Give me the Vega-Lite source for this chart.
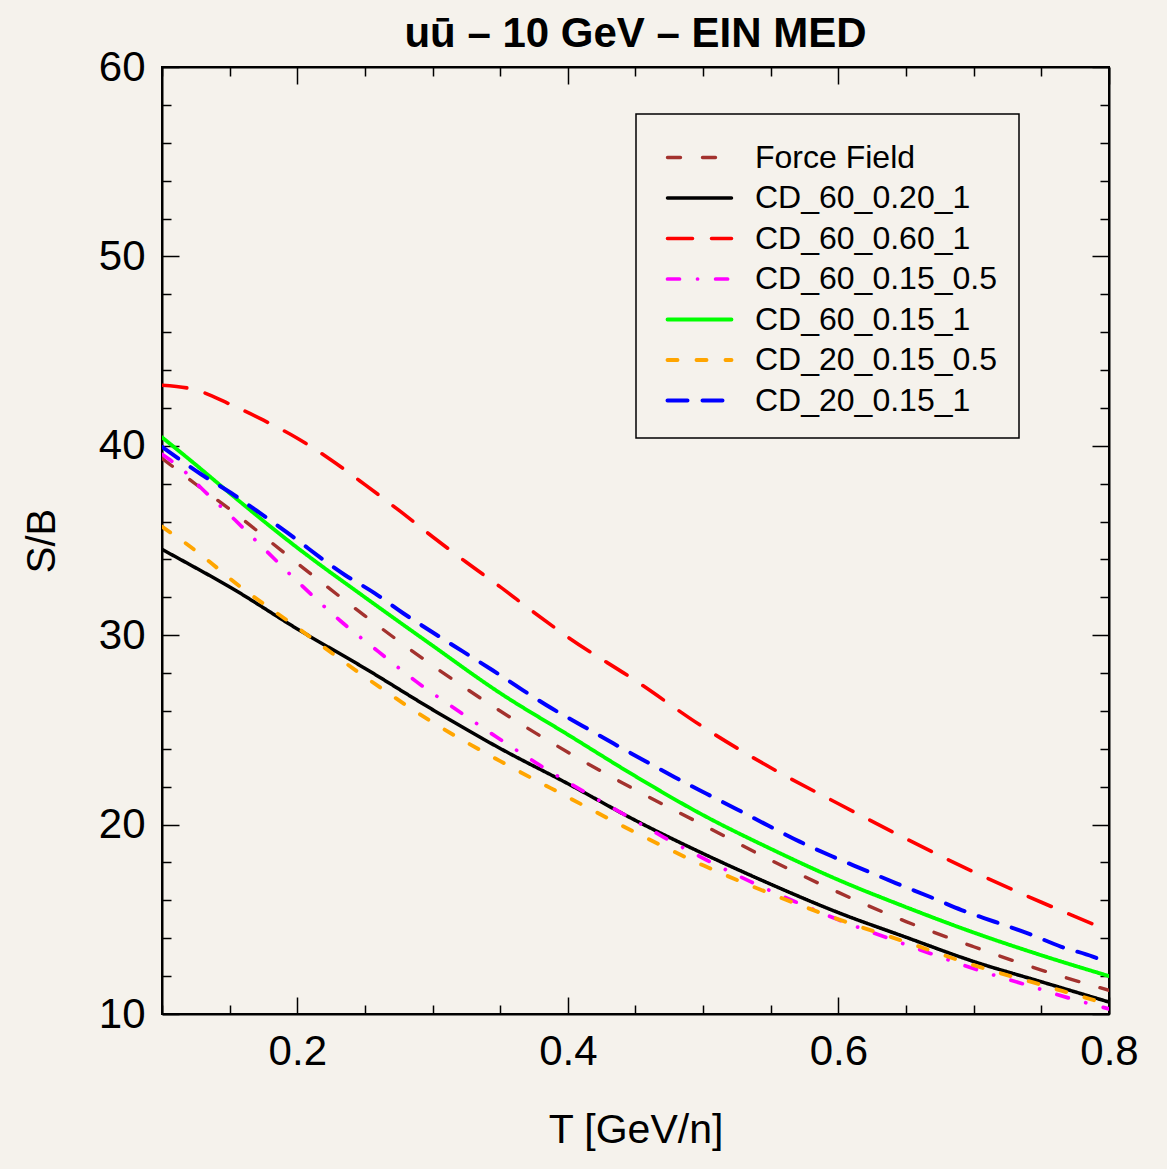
{
  "$schema": "https://vega.github.io/schema/vega-lite/v6.json",
  "width": 947,
  "height": 947,
  "autosize": {"type": "none"},
  "padding": {"left": 162, "top": 67, "right": 58, "bottom": 155},
  "background": "#f5f2ec",
  "title": {"text": "uū – 10 GeV – EIN MED", "font": "Liberation Sans", "fontSize": 42, "fontWeight": "bold", "color": "black", "offset": -10, "anchor": "middle"},
  "data": {"values": [
    {"model": "Force Field", "T": 0.1, "SB": 39.34}, {"model": "Force Field", "T": 0.125, "SB": 37.97}, {"model": "Force Field", "T": 0.15, "SB": 36.65}, {"model": "Force Field", "T": 0.2, "SB": 33.8}, {"model": "Force Field", "T": 0.25, "SB": 31.02}, {"model": "Force Field", "T": 0.3, "SB": 28.4}, {"model": "Force Field", "T": 0.35, "SB": 26.0}, {"model": "Force Field", "T": 0.4, "SB": 23.82}, {"model": "Force Field", "T": 0.45, "SB": 21.83}, {"model": "Force Field", "T": 0.5, "SB": 19.98}, {"model": "Force Field", "T": 0.55, "SB": 18.12}, {"model": "Force Field", "T": 0.6, "SB": 16.42}, {"model": "Force Field", "T": 0.65, "SB": 14.88}, {"model": "Force Field", "T": 0.7, "SB": 13.55}, {"model": "Force Field", "T": 0.75, "SB": 12.32}, {"model": "Force Field", "T": 0.8, "SB": 11.25},
    {"model": "CD_60_0.20_1", "T": 0.1, "SB": 34.53}, {"model": "CD_60_0.20_1", "T": 0.12, "SB": 33.75}, {"model": "CD_60_0.20_1", "T": 0.15, "SB": 32.55}, {"model": "CD_60_0.20_1", "T": 0.2, "SB": 30.33}, {"model": "CD_60_0.20_1", "T": 0.25, "SB": 28.25}, {"model": "CD_60_0.20_1", "T": 0.3, "SB": 26.07}, {"model": "CD_60_0.20_1", "T": 0.35, "SB": 24.02}, {"model": "CD_60_0.20_1", "T": 0.4, "SB": 22.16}, {"model": "CD_60_0.20_1", "T": 0.45, "SB": 20.22}, {"model": "CD_60_0.20_1", "T": 0.5, "SB": 18.47}, {"model": "CD_60_0.20_1", "T": 0.55, "SB": 16.85}, {"model": "CD_60_0.20_1", "T": 0.6, "SB": 15.35}, {"model": "CD_60_0.20_1", "T": 0.65, "SB": 14.05}, {"model": "CD_60_0.20_1", "T": 0.7, "SB": 12.77}, {"model": "CD_60_0.20_1", "T": 0.75, "SB": 11.7}, {"model": "CD_60_0.20_1", "T": 0.8, "SB": 10.63},
    {"model": "CD_60_0.60_1", "T": 0.1, "SB": 43.2}, {"model": "CD_60_0.60_1", "T": 0.125, "SB": 42.95}, {"model": "CD_60_0.60_1", "T": 0.15, "SB": 42.2}, {"model": "CD_60_0.60_1", "T": 0.175, "SB": 41.35}, {"model": "CD_60_0.60_1", "T": 0.2, "SB": 40.4}, {"model": "CD_60_0.60_1", "T": 0.225, "SB": 39.25}, {"model": "CD_60_0.60_1", "T": 0.25, "SB": 37.95}, {"model": "CD_60_0.60_1", "T": 0.275, "SB": 36.6}, {"model": "CD_60_0.60_1", "T": 0.3, "SB": 35.2}, {"model": "CD_60_0.60_1", "T": 0.325, "SB": 33.85}, {"model": "CD_60_0.60_1", "T": 0.35, "SB": 32.55}, {"model": "CD_60_0.60_1", "T": 0.375, "SB": 31.2}, {"model": "CD_60_0.60_1", "T": 0.4, "SB": 29.9}, {"model": "CD_60_0.60_1", "T": 0.45, "SB": 27.6}, {"model": "CD_60_0.60_1", "T": 0.5, "SB": 25.15}, {"model": "CD_60_0.60_1", "T": 0.55, "SB": 23.0}, {"model": "CD_60_0.60_1", "T": 0.6, "SB": 21.1}, {"model": "CD_60_0.60_1", "T": 0.65, "SB": 19.25}, {"model": "CD_60_0.60_1", "T": 0.7, "SB": 17.5}, {"model": "CD_60_0.60_1", "T": 0.75, "SB": 15.9}, {"model": "CD_60_0.60_1", "T": 0.8, "SB": 14.4},
    {"model": "CD_60_0.15_0.5", "T": 0.1, "SB": 39.55}, {"model": "CD_60_0.15_0.5", "T": 0.117, "SB": 38.63}, {"model": "CD_60_0.15_0.5", "T": 0.128, "SB": 37.84}, {"model": "CD_60_0.15_0.5", "T": 0.154, "SB": 36.08}, {"model": "CD_60_0.15_0.5", "T": 0.171, "SB": 34.88}, {"model": "CD_60_0.15_0.5", "T": 0.2, "SB": 32.85}, {"model": "CD_60_0.15_0.5", "T": 0.232, "SB": 30.75}, {"model": "CD_60_0.15_0.5", "T": 0.26, "SB": 29.13}, {"model": "CD_60_0.15_0.5", "T": 0.288, "SB": 27.55}, {"model": "CD_60_0.15_0.5", "T": 0.318, "SB": 26.05}, {"model": "CD_60_0.15_0.5", "T": 0.347, "SB": 24.64}, {"model": "CD_60_0.15_0.5", "T": 0.377, "SB": 23.24}, {"model": "CD_60_0.15_0.5", "T": 0.409, "SB": 21.86}, {"model": "CD_60_0.15_0.5", "T": 0.44, "SB": 20.6}, {"model": "CD_60_0.15_0.5", "T": 0.471, "SB": 19.33}, {"model": "CD_60_0.15_0.5", "T": 0.5025, "SB": 18.13}, {"model": "CD_60_0.15_0.5", "T": 0.535, "SB": 16.99}, {"model": "CD_60_0.15_0.5", "T": 0.568, "SB": 15.93}, {"model": "CD_60_0.15_0.5", "T": 0.6005, "SB": 14.96}, {"model": "CD_60_0.15_0.5", "T": 0.635, "SB": 14.05}, {"model": "CD_60_0.15_0.5", "T": 0.669, "SB": 13.17}, {"model": "CD_60_0.15_0.5", "T": 0.703, "SB": 12.32}, {"model": "CD_60_0.15_0.5", "T": 0.737, "SB": 11.58}, {"model": "CD_60_0.15_0.5", "T": 0.771, "SB": 10.83}, {"model": "CD_60_0.15_0.5", "T": 0.8, "SB": 10.27},
    {"model": "CD_60_0.15_1", "T": 0.1, "SB": 40.45}, {"model": "CD_60_0.15_1", "T": 0.125, "SB": 39.0}, {"model": "CD_60_0.15_1", "T": 0.15, "SB": 37.5}, {"model": "CD_60_0.15_1", "T": 0.2, "SB": 34.62}, {"model": "CD_60_0.15_1", "T": 0.25, "SB": 32.0}, {"model": "CD_60_0.15_1", "T": 0.3, "SB": 29.45}, {"model": "CD_60_0.15_1", "T": 0.35, "SB": 26.94}, {"model": "CD_60_0.15_1", "T": 0.4, "SB": 24.75}, {"model": "CD_60_0.15_1", "T": 0.45, "SB": 22.55}, {"model": "CD_60_0.15_1", "T": 0.5, "SB": 20.5}, {"model": "CD_60_0.15_1", "T": 0.55, "SB": 18.72}, {"model": "CD_60_0.15_1", "T": 0.6, "SB": 17.08}, {"model": "CD_60_0.15_1", "T": 0.65, "SB": 15.64}, {"model": "CD_60_0.15_1", "T": 0.7, "SB": 14.3}, {"model": "CD_60_0.15_1", "T": 0.75, "SB": 13.1}, {"model": "CD_60_0.15_1", "T": 0.8, "SB": 12.0},
    {"model": "CD_20_0.15_0.5", "T": 0.1, "SB": 35.73}, {"model": "CD_20_0.15_0.5", "T": 0.121, "SB": 34.67}, {"model": "CD_20_0.15_0.5", "T": 0.137, "SB": 33.77}, {"model": "CD_20_0.15_0.5", "T": 0.15, "SB": 33.0}, {"model": "CD_20_0.15_0.5", "T": 0.2, "SB": 30.4}, {"model": "CD_20_0.15_0.5", "T": 0.25, "SB": 27.8}, {"model": "CD_20_0.15_0.5", "T": 0.3, "SB": 25.4}, {"model": "CD_20_0.15_0.5", "T": 0.35, "SB": 23.35}, {"model": "CD_20_0.15_0.5", "T": 0.4, "SB": 21.45}, {"model": "CD_20_0.15_0.5", "T": 0.45, "SB": 19.58}, {"model": "CD_20_0.15_0.5", "T": 0.5, "SB": 17.85}, {"model": "CD_20_0.15_0.5", "T": 0.55, "SB": 16.35}, {"model": "CD_20_0.15_0.5", "T": 0.6, "SB": 15.0}, {"model": "CD_20_0.15_0.5", "T": 0.65, "SB": 13.8}, {"model": "CD_20_0.15_0.5", "T": 0.7, "SB": 12.58}, {"model": "CD_20_0.15_0.5", "T": 0.75, "SB": 11.54}, {"model": "CD_20_0.15_0.5", "T": 0.8, "SB": 10.5},
    {"model": "CD_20_0.15_1", "T": 0.1, "SB": 39.95}, {"model": "CD_20_0.15_1", "T": 0.1286, "SB": 38.51}, {"model": "CD_20_0.15_1", "T": 0.1508, "SB": 37.52}, {"model": "CD_20_0.15_1", "T": 0.172, "SB": 36.47}, {"model": "CD_20_0.15_1", "T": 0.1926, "SB": 35.41}, {"model": "CD_20_0.15_1", "T": 0.2352, "SB": 33.18}, {"model": "CD_20_0.15_1", "T": 0.2574, "SB": 32.21}, {"model": "CD_20_0.15_1", "T": 0.2783, "SB": 31.16}, {"model": "CD_20_0.15_1", "T": 0.3005, "SB": 30.13}, {"model": "CD_20_0.15_1", "T": 0.3226, "SB": 29.13}, {"model": "CD_20_0.15_1", "T": 0.3441, "SB": 28.16}, {"model": "CD_20_0.15_1", "T": 0.3658, "SB": 27.14}, {"model": "CD_20_0.15_1", "T": 0.388, "SB": 26.14}, {"model": "CD_20_0.15_1", "T": 0.4109, "SB": 25.21}, {"model": "CD_20_0.15_1", "T": 0.4335, "SB": 24.29}, {"model": "CD_20_0.15_1", "T": 0.4557, "SB": 23.41}, {"model": "CD_20_0.15_1", "T": 0.479, "SB": 22.5}, {"model": "CD_20_0.15_1", "T": 0.5025, "SB": 21.63}, {"model": "CD_20_0.15_1", "T": 0.5252, "SB": 20.8}, {"model": "CD_20_0.15_1", "T": 0.548, "SB": 19.95}, {"model": "CD_20_0.15_1", "T": 0.5714, "SB": 19.1}, {"model": "CD_20_0.15_1", "T": 0.5948, "SB": 18.34}, {"model": "CD_20_0.15_1", "T": 0.6195, "SB": 17.6}, {"model": "CD_20_0.15_1", "T": 0.6428, "SB": 16.9}, {"model": "CD_20_0.15_1", "T": 0.6675, "SB": 16.19}, {"model": "CD_20_0.15_1", "T": 0.691, "SB": 15.49}, {"model": "CD_20_0.15_1", "T": 0.7155, "SB": 14.87}, {"model": "CD_20_0.15_1", "T": 0.74, "SB": 14.26}, {"model": "CD_20_0.15_1", "T": 0.7648, "SB": 13.55}, {"model": "CD_20_0.15_1", "T": 0.788, "SB": 13.03}, {"model": "CD_20_0.15_1", "T": 0.8, "SB": 12.68}
  ]},
  "resolve": {"axis": {"x": "independent", "y": "independent"}},
  "encoding": {
    "color": {"field": "model", "type": "nominal",
      "scale": {"domain": ["Force Field", "CD_60_0.20_1", "CD_60_0.60_1", "CD_60_0.15_0.5", "CD_60_0.15_1", "CD_20_0.15_0.5", "CD_20_0.15_1"],
                "range": ["#a3322e", "#000000", "#ff0000", "#ff00ff", "#00ff00", "#ffa500", "#0000ff"]},
      "legend": {"orient": "none", "legendX": 474, "legendY": 47, "title": null, "padding": 21.5, "strokeColor": "black", "fillColor": "#f5f2ec",
        "labelFont": "Liberation Sans", "labelFontSize": 32, "labelColor": "black", "labelOffset": 33.5, "symbolSize": 1600, "symbolStrokeWidth": 3,
        "symbolType": "M-1.6,0H1.6", "symbolOffset": 20, "rowPadding": 2.5,
        "labelLimit": 400, "encode": {"symbols": {"update": {"strokeCap": {"value": "round"}, "fill": {"value": "transparent"}}}, "legend": {"update": {"strokeWidth": {"value": 1.5}}}}}},
    "strokeDash": {"field": "model", "type": "nominal",
      "scale": {"domain": ["Force Field", "CD_60_0.20_1", "CD_60_0.60_1", "CD_60_0.15_0.5", "CD_60_0.15_1", "CD_20_0.15_0.5", "CD_20_0.15_1"],
                "range": [[13, 22], [1, 0], [25, 19], [12, 18, 0.1, 18], [1, 0], [10, 19], [20, 15]]}},
    "strokeWidth": {"field": "model", "type": "nominal", "legend": null,
      "scale": {"domain": ["Force Field", "CD_60_0.20_1", "CD_60_0.60_1", "CD_60_0.15_0.5", "CD_60_0.15_1", "CD_20_0.15_0.5", "CD_20_0.15_1"],
                "range": [3.4, 4, 4.3, 3.4, 3, 3, 3.2]}}
  },
  "layer": [
    {
      "transform": [{"filter": {"field": "model", "oneOf": ["Force Field", "CD_60_0.20_1", "CD_60_0.60_1", "CD_60_0.15_0.5"]}}],
      "mark": {"type": "line", "interpolate": "monotone", "strokeCap": "round", "clip": true},
      "encoding": {
        "x": {"field": "T", "type": "quantitative", "scale": {"domain": [0.1, 0.8], "nice": false, "zero": false},
          "axis": {"orient": "bottom", "values": [0.1, 0.15, 0.2, 0.25, 0.3, 0.35, 0.4, 0.45, 0.5, 0.55, 0.6, 0.65, 0.7, 0.75, 0.8],
            "labelExpr": "abs(datum.value*5 - round(datum.value*5)) < 0.001 ? format(datum.value, '.1f') : ''",
            "tickSize": {"condition": {"test": "abs(datum.value*5 - round(datum.value*5)) < 0.001", "value": -17}, "value": -9},
            "labelPadding": 34, "labelFont": "Liberation Sans", "labelFontSize": 42, "labelColor": "black", "labelFlush": false, "labelOverlap": false,
            "domainColor": "black", "domainWidth": 2, "tickColor": "black", "tickWidth": 1.5, "grid": false,
            "title": "T [GeV/n]", "titleFont": "Liberation Sans", "titleFontSize": 41, "titleFontWeight": "normal", "titleColor": "black", "titlePadding": 30}},
        "y": {"field": "SB", "type": "quantitative", "scale": {"domain": [10, 60], "nice": false, "zero": false},
          "axis": {"orient": "left", "values": [10, 12, 14, 16, 18, 20, 22, 24, 26, 28, 30, 32, 34, 36, 38, 40, 42, 44, 46, 48, 50, 52, 54, 56, 58, 60],
            "labelExpr": "datum.value % 10 == 0 ? datum.value : ''",
            "tickSize": {"condition": {"test": "datum.value % 10 == 0", "value": -17}, "value": -9},
            "labelPadding": 34, "labelFont": "Liberation Sans", "labelFontSize": 42, "labelColor": "black", "labelFlush": false, "labelOverlap": false,
            "domainColor": "black", "domainWidth": 2, "tickColor": "black", "tickWidth": 1.5, "grid": false,
            "title": "S/B", "titleFont": "Liberation Sans", "titleFontSize": 40, "titleFontWeight": "normal", "titleColor": "black", "titlePadding": 36}}
      }
    },
    {
      "transform": [{"filter": {"field": "model", "oneOf": ["CD_60_0.15_1", "CD_20_0.15_0.5", "CD_20_0.15_1"]}}],
      "mark": {"type": "line", "interpolate": "monotone", "strokeCap": "round", "clip": true},
      "encoding": {
        "x": {"field": "T", "type": "quantitative", "scale": {"domain": [0.1, 0.8], "nice": false, "zero": false},
          "axis": {"orient": "top", "values": [0.1, 0.15, 0.2, 0.25, 0.3, 0.35, 0.4, 0.45, 0.5, 0.55, 0.6, 0.65, 0.7, 0.75, 0.8],
            "labels": false, "title": null,
            "tickSize": {"condition": {"test": "abs(datum.value*5 - round(datum.value*5)) < 0.001", "value": -17}, "value": -9},
            "domainColor": "black", "domainWidth": 2, "tickColor": "black", "tickWidth": 1.5, "grid": false}},
        "y": {"field": "SB", "type": "quantitative", "scale": {"domain": [10, 60], "nice": false, "zero": false},
          "axis": {"orient": "right", "values": [10, 12, 14, 16, 18, 20, 22, 24, 26, 28, 30, 32, 34, 36, 38, 40, 42, 44, 46, 48, 50, 52, 54, 56, 58, 60],
            "labels": false, "title": null,
            "tickSize": {"condition": {"test": "datum.value % 10 == 0", "value": -17}, "value": -9},
            "domainColor": "black", "domainWidth": 2, "tickColor": "black", "tickWidth": 1.5, "grid": false}}
      }
    }
  ],
  "config": {"view": {"stroke": "black", "strokeWidth": 2}}
}
